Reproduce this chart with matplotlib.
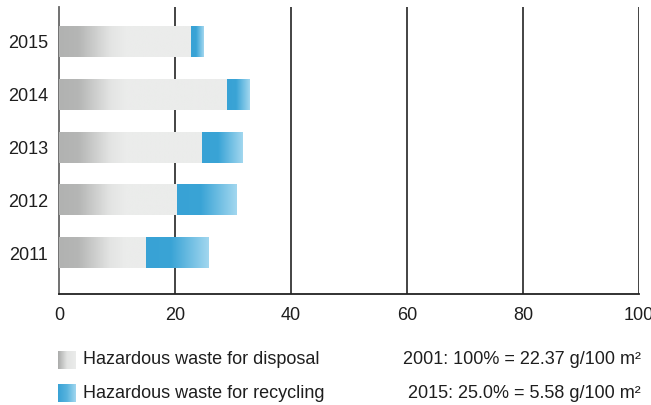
import numpy as np
import matplotlib.pyplot as plt
from matplotlib.colors import LinearSegmentedColormap

years = ["2011", "2012", "2013", "2014", "2015"]
disposal = [15.0, 20.3, 24.7, 29.0, 22.8]
recycling = [10.7, 10.2, 7.0, 3.8, 2.2]
xticks = [0, 20, 40, 60, 80, 100]
legend_labels = ["Hazardous waste for disposal", "Hazardous waste for recycling"]
notes = ["2001: 100% = 22.37 g/100 m\u00b2", "2015: 25.0% = 5.58 g/100 m\u00b2"]

plt.rcParams['font.family'] = ['Liberation Sans', 'DejaVu Sans']

gray_cmap = LinearSegmentedColormap.from_list(
    "gray_fade", [(0, "#b1b2b1"), (0.15, "#b5b6b5"), (0.4, "#e3e4e3"), (0.52, "#ebeceb"), (1, "#ebeceb")])
blue_cmap = LinearSegmentedColormap.from_list(
    "blue_fade", [(0, "#38a2d5"), (0.4, "#3aa4d6"), (1, "#a2d7ef")])

fig = plt.figure(figsize=(6.51, 4.05), dpi=100)
ax = fig.add_axes([59/651, 111/405, 580/651, 287/405])

bar_h = 0.58
ramp = np.linspace(0, 1, 256).reshape(1, -1)
for i, (d, r) in enumerate(zip(disposal, recycling)):
    # grey ramp is fixed in data units so it looks the same on every bar
    g = np.linspace(0, d / 22.0, 256).reshape(1, -1)
    ax.imshow(g, cmap=gray_cmap, vmin=0, vmax=1, aspect='auto',
              extent=[0, d, i - bar_h/2, i + bar_h/2], zorder=3, interpolation='bilinear')
    ax.imshow(ramp, cmap=blue_cmap, vmin=0, vmax=1, aspect='auto',
              extent=[d, d + r, i - bar_h/2, i + bar_h/2], zorder=3, interpolation='bilinear')

ax.set_xlim(0, 100)
ax.set_ylim(-0.775, 4.652)
ax.set_yticks(range(len(years)))
ax.set_yticklabels(years)
ax.set_xticks(xticks)
ax.tick_params(axis='both', length=0, labelsize=13, colors='#1e1e1e')
ax.tick_params(axis='y', pad=8)
ax.tick_params(axis='x', pad=9)
for t in ax.get_yticklabels():
    t.set_va('center_baseline')

for x in xticks[1:]:
    ax.axvline(x, color='#111111', lw=1.1, zorder=1)

ax.spines['top'].set_visible(False)
ax.spines['right'].set_visible(False)
ax.spines['left'].set_color('#666666')
ax.spines['left'].set_linewidth(1.3)
ax.spines['bottom'].set_color('#222222')
ax.spines['bottom'].set_linewidth(1.3)

# legend swatches and notes
swatch_y = [360, 393]
cmaps = [LinearSegmentedColormap.from_list("g", ["#a9aaa9", "#e2e3e2", "#ebeceb"]),
         LinearSegmentedColormap.from_list("b", ["#38a2d5", "#58b3de", "#a2d7ef"])]
for y, lab, note, cm in zip(swatch_y, legend_labels, notes, cmaps):
    sw = fig.add_axes([58/651, (405 - y - 9)/405, 18/651, 18/405])
    sw.imshow(ramp, cmap=cm, aspect='auto', interpolation='bilinear')
    sw.axis('off')
    fig.text(83/651, (405 - y)/405, lab, fontsize=13, color='#1e1e1e', va='center', ha='left')
    fig.text(641/651, (405 - y)/405, note, fontsize=13, color='#1e1e1e', va='center', ha='right')

fig.savefig("out.png", dpi=100)
